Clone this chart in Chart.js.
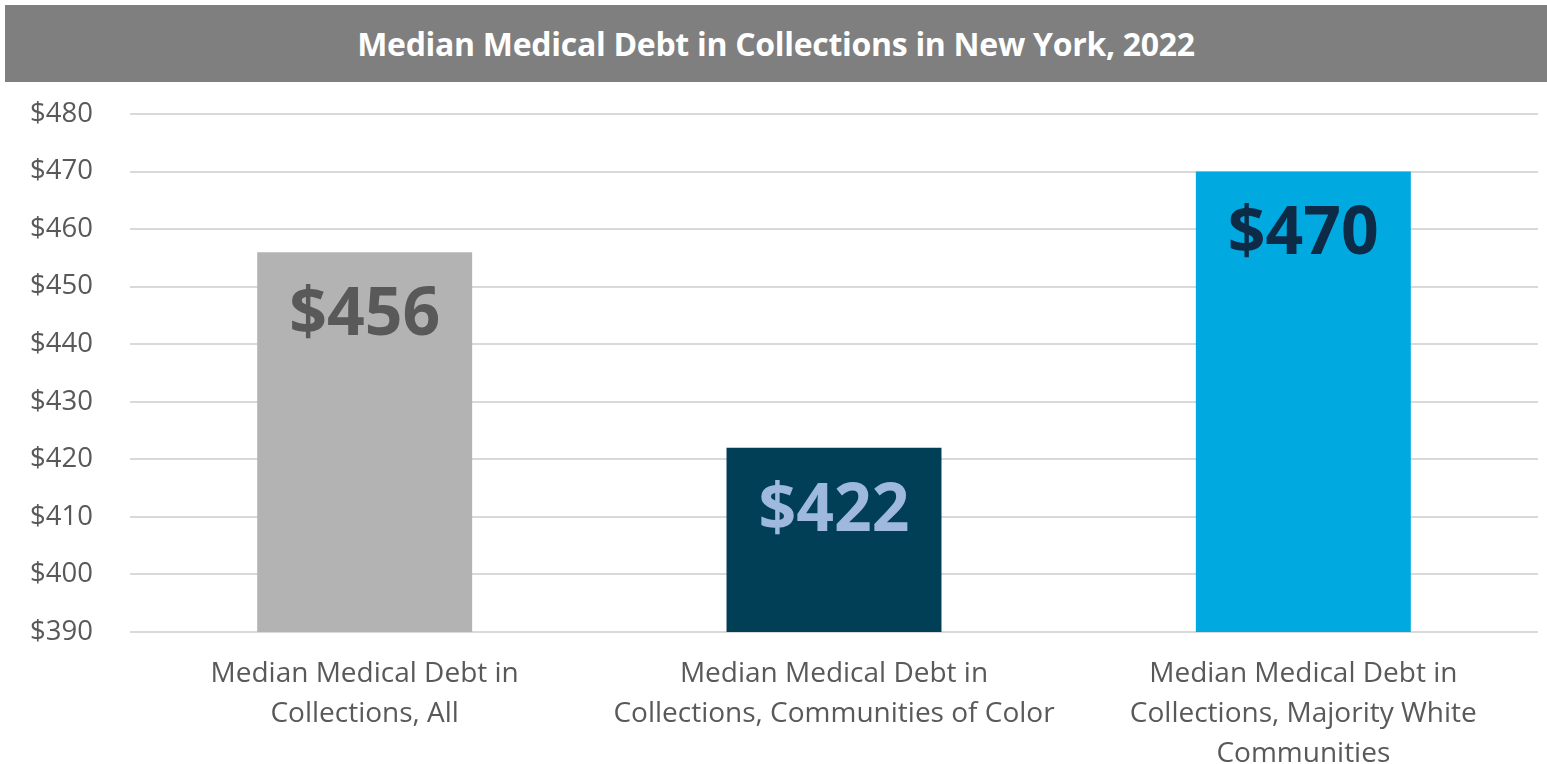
<!DOCTYPE html>
<html lang="en">
<head>
    <meta charset="UTF-8">
    <title>Median Medical Debt in Collections in New York, 2022</title>
    <script src="https://cdn.jsdelivr.net/npm/chart.js"></script>
    <style>
        body { margin: 0; background: #fff; width: 1547px; height: 764px; overflow: hidden; position: relative; }
        #titleBar {
            position: absolute; left: 5px; top: 5px; width: 1542px; height: 77px;
            background: #7f7f7f; color: #fff; font-family: 'Open Sans', sans-serif;
            font-weight: bold; font-size: 32px; line-height: 77px; text-align: center;
            letter-spacing: -0.3px;
        }
        #wrap { position: absolute; left: 0; top: 82px; width: 1547px; height: 682px; }
    </style>
</head>
<body>
    <div id="titleBar">Median Medical Debt in Collections in New York, 2022</div>
    <div id="wrap">
        <canvas id="debtChart"></canvas>
    </div>
    <script>
        // data
        const categories = [
            ['Median Medical Debt in', 'Collections, All'],
            ['Median Medical Debt in', 'Collections, Communities of Color'],
            ['Median Medical Debt in', 'Collections, Majority White', 'Communities']
        ];
        const medianDebt = [456, 422, 470];
        const barColors = ['#b3b3b3', '#013f57', '#00a9e0'];
        const labelColors = ['#595959', '#9fb8de', '#0d2a47'];

        // labels drawn inside the top of each bar
        const barLabels = {
            id: 'barLabels',
            afterDatasetsDraw(chart) {
                const ctx = chart.ctx;
                const meta = chart.getDatasetMeta(0);
                ctx.save();
                ctx.font = 'bold 66px "Open Sans", sans-serif';
                ctx.textAlign = 'center';
                ctx.textBaseline = 'middle';
                meta.data.forEach((bar, i) => {
                    ctx.fillStyle = labelColors[i];
                    ctx.fillText('$' + medianDebt[i], bar.x, bar.y + 64);
                });
                ctx.restore();
            }
        };

        const ctx = document.getElementById('debtChart').getContext('2d');
        new Chart(ctx, {
            type: 'bar',
            data: {
                labels: categories,
                datasets: [{
                    data: medianDebt,
                    backgroundColor: barColors,
                    barPercentage: 0.458,
                    categoryPercentage: 1.0
                }]
            },
            options: {
                responsive: true,
                maintainAspectRatio: false,
                animation: false,
                layout: { padding: { top: 32, right: 9, left: 0, bottom: 0 } },
                plugins: {
                    legend: { display: false },
                    tooltip: { enabled: false }
                },
                scales: {
                    x: {
                        grid: { display: false, drawTicks: false },
                        border: { display: false },
                        ticks: {
                            color: '#595959',
                            padding: 22,
                            maxRotation: 0,
                            autoSkip: false,
                            font: { family: "'Open Sans', sans-serif", size: 28, lineHeight: '40px' }
                        },
                        afterFit(scale) {
                            scale.height = 132;
                            scale.paddingTop = 0;
                            scale.paddingBottom = 0;
                        }
                    },
                    y: {
                        min: 390,
                        max: 480,
                        grid: { color: '#d9d9d9', lineWidth: 2, drawTicks: false },
                        border: { display: false },
                        ticks: {
                            stepSize: 10,
                            color: '#595959',
                            padding: 37,
                            font: { family: "'Open Sans', sans-serif", size: 27.5 },
                            callback: v => '$' + v
                        },
                        afterFit(scale) {
                            scale.width = 130;
                            scale.paddingTop = 0;
                            scale.paddingBottom = 0;
                        }
                    }
                }
            },
            plugins: [barLabels]
        });
    </script>
</body>
</html>
